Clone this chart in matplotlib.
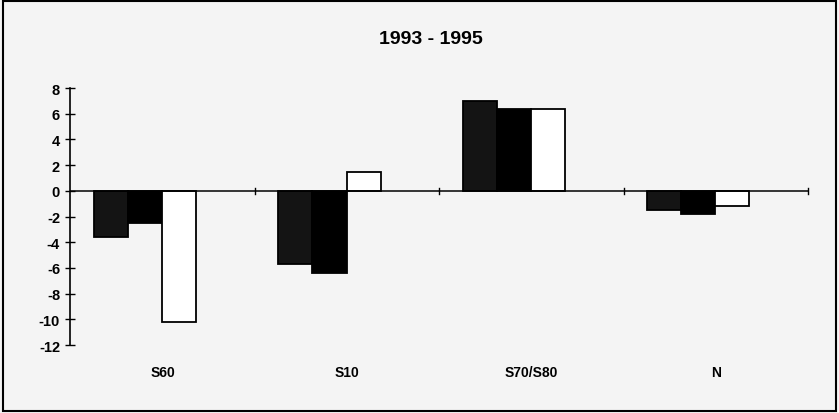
import matplotlib.pyplot as plt
from matplotlib.patches import Rectangle

# Data
categories = ['S60', 'S10', 'S70/S80', 'N']
series_a = [-3.6, -5.7, 7.0, -1.5]
series_b = [-2.5, -6.4, 6.4, -1.8]
series_c = [-10.2, 1.5, 6.4, -1.2]
yticks = list(range(-12, 9, 2))

plt.rcParams['font.family'] = ['Liberation Sans', 'DejaVu Sans']

fig = plt.figure(figsize=(8.39, 4.14), dpi=100, facecolor='#f4f4f4')
ax = fig.add_axes([0.084, 0.164, 0.879, 0.621])
ax.set_facecolor('none')

# Bars: three series per group, slightly left of the group centre
width = 0.185
shift = -0.095
colors = ['#141414', '#000000', '#ffffff']
for j, (vals, col) in enumerate(zip([series_a, series_b, series_c], colors)):
    xs = [i + shift + (j - 1) * width for i in range(len(categories))]
    ax.bar(xs, vals, width=width, color=col, edgecolor='black', linewidth=1.3, zorder=2)

ax.set_xlim(-0.5, len(categories) - 0.5)
ax.set_ylim(-12, 8)

# Zero line with small group separators
ax.axhline(0, color='black', linewidth=1.1, zorder=3)
for b in range(1, len(categories) + 1):
    ax.plot([b - 0.5, b - 0.5], [-0.25, 0.25], color='black', linewidth=1, zorder=3, clip_on=False)

for s in ['top', 'right', 'bottom']:
    ax.spines[s].set_visible(False)
ax.spines['left'].set_linewidth(1.2)

ax.set_yticks(yticks)
ax.set_yticklabels([str(t) for t in yticks], fontsize=10.5, fontweight='bold')
ax.tick_params(axis='y', direction='inout', length=7, width=1, pad=4)

ax.set_xticks(range(len(categories)))
ax.set_xticklabels(categories, fontsize=10, fontweight='bold')
ax.tick_params(axis='x', length=0, pad=14)

fig.text(0.513, 0.905, '1993 - 1995', ha='center', va='center', fontsize=14, fontweight='bold')

# Frame around the whole picture
fig.patches.append(Rectangle((0.003, 0.006), 0.993, 0.988, transform=fig.transFigure,
                             fill=False, edgecolor='black', linewidth=1.5))

fig.savefig('out.png', dpi=100, facecolor=fig.get_facecolor())
